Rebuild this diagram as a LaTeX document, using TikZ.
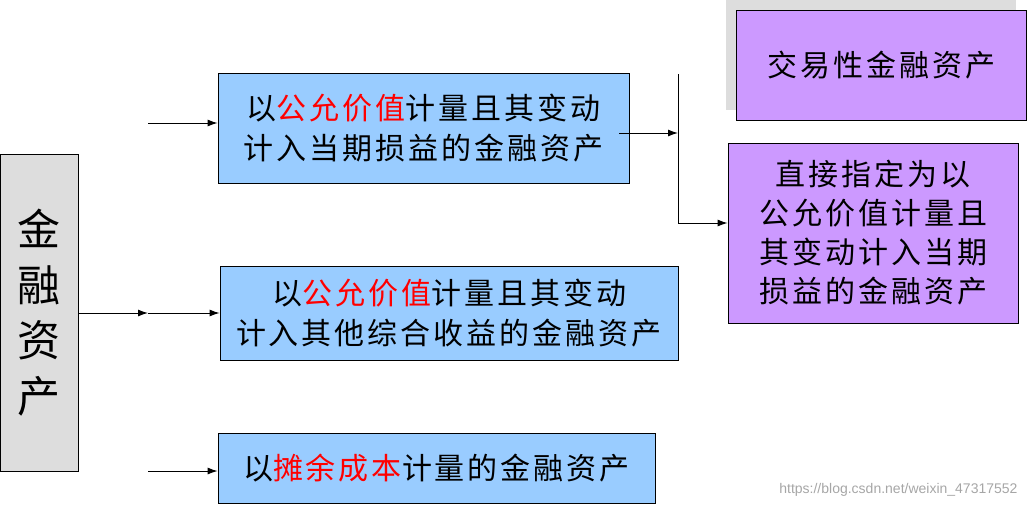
\documentclass[tikz,border=0pt]{standalone}
\usepackage{fontspec}
\setmainfont{Noto Sans CJK SC}[LetterSpace=10]
\newfontfamily\wmfont{Liberation Sans}
\usetikzlibrary{arrows.meta}
\definecolor{lanfill}{HTML}{99CCFF}
\definecolor{timfill}{HTML}{CC99FF}
\definecolor{xamfill}{HTML}{DDDDDD}
\begin{document}
\begin{tikzpicture}[x=1pt,y=-1pt,line width=1pt,>={Latex[length=10pt,width=7pt]},
	box/.style={draw=black,line width=0.8pt,align=center,inner sep=0pt,font=\fontsize{30}{40}\selectfont},
	lan/.style={box,fill=lanfill},
	tim/.style={box,fill=timfill}]
	\useasboundingbox (0,0) rectangle (1027,509);
	%Ô bên trái
	\node[box,fill=xamfill,minimum width=78,minimum height=317,font=\fontsize{43}{55.5}\selectfont] (tc) at (39,312.5) {金\\融\\资\\产};
	%Ba ô màu xanh
	\node[lan,minimum width=411,minimum height=110] (b1) at (423.5,128) {以{\color{red}公允价值}计量且其变动\\计入当期损益的金融资产};
	\node[lan,minimum width=458,minimum height=94] (b2) at (449,313) {以{\color{red}公允价值}计量且其变动\\计入其他综合收益的金融资产};
	\node[lan,minimum width=437,minimum height=70] (b3) at (436.5,468) {以{\color{red}摊余成本}计量的金融资产};
	%Hai ô màu tím
	\fill[xamfill] (726,0) rectangle (1016,110);
	\node[tim,minimum width=290,minimum height=110] (p1) at (881,65) {交易性金融资产};
	\node[tim,minimum width=290,minimum height=180,font=\fontsize{30}{39}\selectfont] (p2) at (873,233) {直接指定为以\\公允价值计量且\\其变动计入当期\\损益的金融资产};
	%Các mũi tên
	\coordinate (m) at (148,313);
	\draw[->] (tc.east |- m) -- (m);
	\draw[->] (m) -- (m -| b2.west);
	\coordinate (a1) at (148,123);
	\draw[->] (a1) -- (a1 -| b1.west);
	\coordinate (a3) at (148,471);
	\draw[->] (a3) -- (a3 -| b3.west);
	\coordinate (r0) at ([xshift=-10pt]b1.east);
	\coordinate (r) at (678,133);
	\draw[->] (r0 |- r) -- (r);
	\coordinate (rt) at (678,74);
	\coordinate (rb) at (678,223);
	\draw (rt) -- (rb);
	\draw[->] (rb) -- (rb -| p2.west);
	\node[anchor=east,inner sep=0pt,font=\wmfont\fontsize{14}{14}\selectfont,text=black!35] (wm) at (1018,490) {https://blog.csdn.net/weixin\_47317552};
\end{tikzpicture}
\end{document}
